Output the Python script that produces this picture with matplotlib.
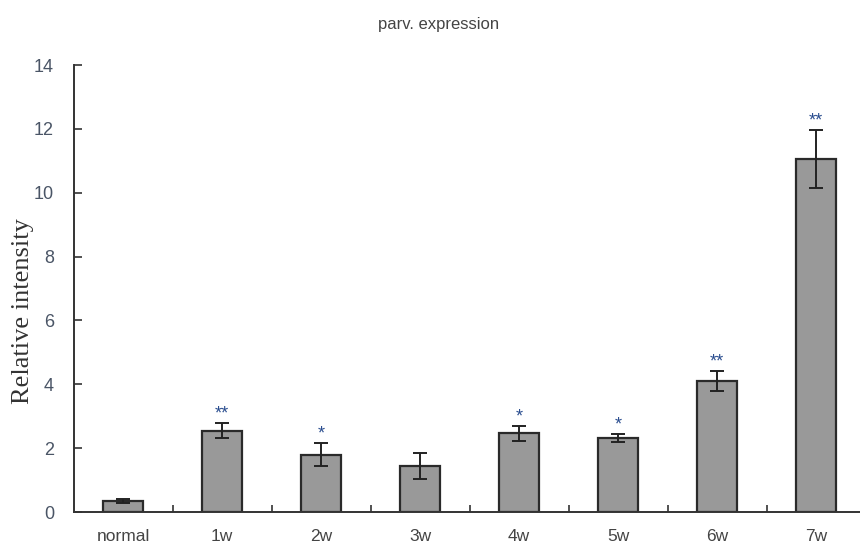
import matplotlib
matplotlib.use("Agg")
import matplotlib.pyplot as plt
import numpy as np

categories = ["normal", "1w", "2w", "3w", "4w", "5w", "6w", "7w"]
values = [0.34, 2.55, 1.79, 1.44, 2.47, 2.31, 4.10, 11.06]
errors = [0.07, 0.23, 0.36, 0.42, 0.23, 0.13, 0.32, 0.90]
marks = ["", "**", "*", "", "*", "*", "**", "**"]

fig = plt.figure(figsize=(8.6, 5.5), dpi=100)
ax = fig.add_axes([0.0855, 0.069, 0.921, 0.8127])

x = np.arange(len(categories))
ax.bar(x, values, width=0.40, color="#999999", edgecolor="#2a2a2a", linewidth=1.6,
       yerr=errors, error_kw=dict(ecolor="#222222", elinewidth=1.4, capsize=5, capthick=1.4))

for xi, v, e, m in zip(x, values, errors, marks):
    if m:
        ax.text(xi, v + e + 0.28, m, ha="center", va="center", color="#2a4d8f",
                fontsize=13, family="Liberation Sans")

ax.set_xlim(-0.5, 7.5)
ax.set_ylim(0, 14)
ax.set_yticks(np.arange(0, 15, 2))
ax.set_xticks(x)
ax.set_xticklabels(categories)
ax.set_xticks(np.arange(0.5, 7, 1), minor=True)
ax.tick_params(axis="x", which="major", length=0, pad=12, labelsize=12.5, labelcolor="#444444")
ax.tick_params(axis="x", which="minor", direction="in", length=5, width=1.2, color="#333333")
ax.tick_params(axis="y", direction="in", length=6, width=1.2, color="#333333", pad=14,
               labelsize=13, labelcolor="#4a5566")
for lbl in ax.get_xticklabels() + ax.get_yticklabels():
    lbl.set_family("Liberation Sans")

for s in ["top", "right"]:
    ax.spines[s].set_visible(False)
for s in ["left", "bottom"]:
    ax.spines[s].set_linewidth(1.4)
    ax.spines[s].set_color("#333333")

ax.set_ylabel("Relative intensity", family="Liberation Serif", fontsize=19, color="#333333")
ax.yaxis.set_label_coords(-0.05, 0.45)
fig.text(0.51, 0.956, "parv. expression", ha="center", va="center", fontsize=12,
         family="Liberation Sans", color="#444444")

fig.savefig("out.png", dpi=100)
